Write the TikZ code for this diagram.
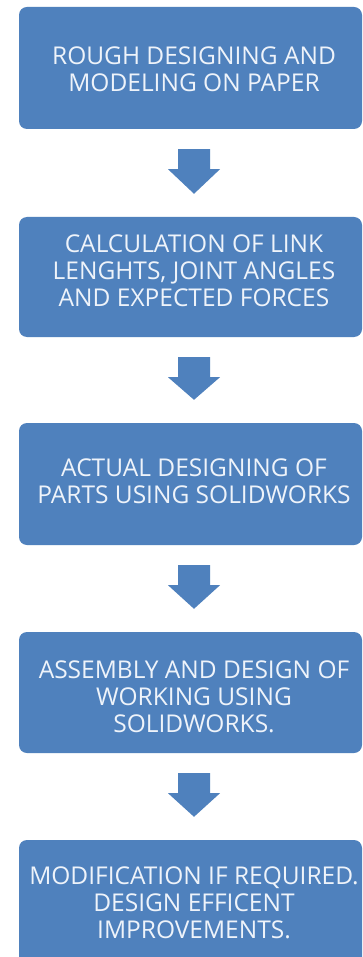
\documentclass[tikz,border=0pt]{standalone}
\usepackage{fontspec}
\setmainfont{Open Sans}
\usetikzlibrary{calc}
\definecolor{flowblue}{HTML}{4F81BD}
\definecolor{flowtext}{HTML}{EEF3FA}
\tikzset{
  stepbox/.style={draw=none, fill=flowblue, rounded corners=8pt,
    minimum width=343pt, inner sep=0pt},
  steptext/.style={text=flowtext, align=center, inner sep=0pt,
    font=\fontsize{24.5}{27}\selectfont},
  downarrow/.style={fill=flowblue, draw=none}
}
% fat downward arrow between two boxes: shaft 32 wide, head 52 wide
\newcommand\flowarrow[2]{%
  \fill[downarrow]
    ($(#1.south)+(-12.5pt,-20pt)$) coordinate (#1-#2-s)
    -- ++(32pt,0pt) -- ++(0pt,-20pt) -- ++(10pt,0pt)
    -- ($(#2.north)+(3.5pt,23pt)$) coordinate (#1-#2-tip)
    -- ($(#1-#2-s)+(-10pt,-20pt)$) -- ++(10pt,0pt) -- cycle;}
\begin{document}
\begin{tikzpicture}[x=1pt,y=1pt]
  \useasboundingbox[fill=white] (0,0) rectangle (363,-957);

  \node[stepbox, minimum height=122pt] (b1) at (190.5,-68) {};
  \node[stepbox, minimum height=120pt] (b2) at (190.5,-277) {};
  \node[stepbox, minimum height=122pt] (b3) at (190.5,-484) {};
  \node[stepbox, minimum height=121pt] (b4) at (190.5,-692.5) {};
  \node[stepbox, minimum height=130pt] (b5) at (190.5,-905) {};

  \node[steptext] (t1) at (194,-69) {ROUGH DESIGNING AND\\MODELING ON PAPER};
  \node[steptext] (t2) at (194,-271) {CALCULATION OF LINK\\LENGHTS, JOINT ANGLES\\AND EXPECTED FORCES};
  \node[steptext] (t3) at (194,-481) {ACTUAL DESIGNING OF\\PARTS USING SOLIDWORKS};
  \node[steptext] (t4) at (194,-697) {ASSEMBLY AND DESIGN OF\\WORKING USING\\SOLIDWORKS.};
  \node[steptext] (t5) at (194,-903) {MODIFICATION IF REQUIRED.\\DESIGN EFFICENT\\IMPROVEMENTS.};

  \flowarrow{b1}{b2}
  \flowarrow{b2}{b3}
  \flowarrow{b3}{b4}
  \flowarrow{b4}{b5}
\end{tikzpicture}
\end{document}
